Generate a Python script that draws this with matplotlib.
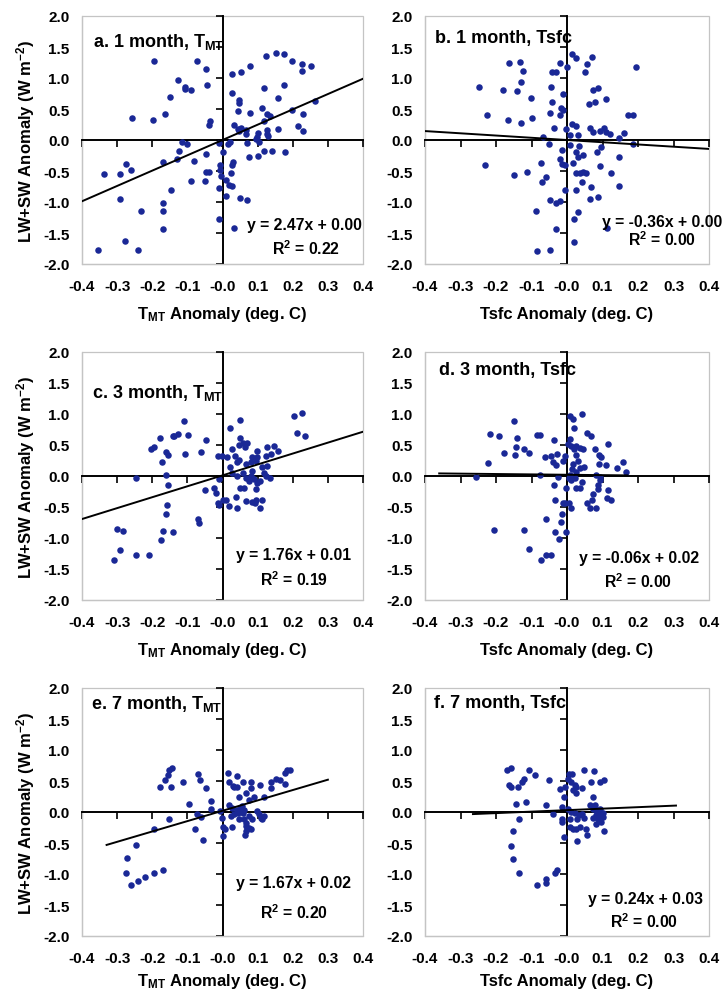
import numpy as np
import matplotlib.pyplot as plt
from matplotlib.patches import Rectangle
from matplotlib.ticker import FormatStrFormatter

plt.rcParams['font.family'] = ['Liberation Sans', 'DejaVu Sans']
plt.rcParams['font.weight'] = 'bold'
plt.rcParams['mathtext.fontset'] = 'custom'
plt.rcParams['mathtext.rm'] = 'Liberation Sans:bold'
plt.rcParams['mathtext.bf'] = 'Liberation Sans:bold'
plt.rcParams['mathtext.it'] = 'Liberation Sans:bold'
plt.rcParams['axes.unicode_minus'] = False

# ---- data ----
a_x = [-0.194, -0.073, -0.046, -0.128, -0.106, -0.108, -0.089, -0.043, -0.149, -0.257,
       -0.197, -0.165, -0.037, -0.038, -0.114, -0.101, -0.124, -0.130, -0.168, -0.080,
       -0.047, -0.047, -0.039, -0.050, -0.090, -0.338, -0.292, -0.274, -0.261, -0.147,
       -0.170, -0.168, -0.291, -0.231, -0.170, -0.279, -0.355, -0.241, -0.011, 0.001,
       -0.007, -0.007, -0.004, 0.009, 0.028, 0.031, 0.024, 0.017, 0.022, 0.018,
       0.028, 0.010, -0.009, 0.050, 0.069, -0.010, 0.034, 0.026, 0.052, 0.079,
       0.028, 0.047, 0.047, 0.044, 0.034, 0.043, 0.052, 0.046, 0.068, 0.067,
       0.069, 0.079, 0.076, 0.123, 0.153, 0.175, 0.197, 0.226, 0.227, 0.252,
       0.175, 0.119, 0.159, 0.263, 0.112, 0.126, 0.134, 0.199, 0.230, 0.118,
       0.159, 0.214, 0.230, 0.126, 0.102, 0.098, 0.126, 0.129, 0.104, 0.095,
       0.102, 0.117, 0.140, 0.178]
a_y = [1.28, 1.28, 1.15, 0.97, 0.86, 0.82, 0.80, 0.89, 0.69, 0.35,
       0.32, 0.42, 0.31, 0.25, -0.04, -0.07, -0.17, -0.30, -0.35, -0.34,
       -0.23, -0.51, -0.51, -0.66, -0.66, -0.55, -0.55, -0.38, -0.49, -0.80,
       -1.02, -1.15, -0.95, -1.14, -1.43, -1.63, -1.78, -1.77, -0.05, -0.19,
       -0.41, -0.49, -0.58, -0.65, -0.41, -0.35, -0.54, -0.07, -0.04, -0.73,
       -0.74, -0.90, -0.78, -0.93, -0.96, -1.27, -1.42, 1.07, 1.10, 1.19,
       0.76, 0.59, 0.65, 0.47, 0.24, 0.18, 0.20, 0.15, 0.16, 0.10,
       -0.05, 0.43, -0.28, 1.35, 1.41, 1.38, 1.28, 1.23, 1.12, 1.19,
       0.88, 0.84, 0.68, 0.63, 0.52, 0.42, 0.39, 0.48, 0.42, 0.30,
       0.18, 0.23, 0.15, 0.16, 0.11, 0.05, 0.09, 0.06, -0.04, 0.02,
       -0.26, -0.17, -0.17, -0.19]

b_x = [-0.247, -0.226, -0.231, -0.179, -0.162, -0.132, -0.125, -0.129, -0.142, -0.165,
       -0.129, -0.101, -0.099, -0.150, -0.113, -0.068, -0.052, -0.074, -0.070, -0.060,
       -0.087, -0.049, -0.030, -0.019, -0.030, -0.085, -0.047, -0.042, -0.030, -0.019,
       0.000, -0.044, -0.011, -0.042, -0.016, -0.011, -0.049, -0.021, -0.038, -0.004,
       -0.013, 0.008, -0.019, -0.014, -0.007, 0.017, 0.015, 0.026, 0.057, 0.051,
       0.071, 0.015, 0.026, 0.031, 0.009, 0.034, 0.024, 0.031, 0.045, 0.036,
       0.045, 0.053, 0.025, 0.041, 0.026, -0.007, 0.031, 0.020, 0.019, 0.061,
       0.080, 0.072, 0.088, 0.111, 0.064, 0.074, 0.092, 0.104, 0.109, 0.121,
       0.097, 0.085, 0.094, 0.067, 0.066, 0.086, 0.125, 0.146, 0.146, 0.113,
       0.173, 0.187, 0.194, 0.185, 0.161, 0.147]
b_y = [0.86, 0.41, -0.40, 0.80, 1.25, 1.26, 1.12, 0.94, 0.79, 0.32,
       0.28, 0.68, 0.35, -0.56, -0.51, 0.05, -0.07, -0.37, -0.68, -0.60,
       -1.15, -0.96, -1.02, -0.99, -1.44, -1.79, -1.77, 1.09, 1.09, 1.25,
       1.18, 0.86, 0.75, 0.61, 0.51, 0.48, 0.43, 0.40, 0.19, 0.17,
       -0.16, -0.08, -0.31, -0.38, -0.41, -0.37, 1.39, 1.33, 1.22, 1.10,
       1.34, 0.26, 0.22, 0.08, 0.08, -0.09, -0.20, -0.27, -0.24, -0.53,
       -0.52, -0.53, -0.53, -0.68, -0.80, -0.81, -1.16, -1.28, -1.64, 0.58,
       0.61, 0.81, 0.84, 0.66, 0.20, 0.13, 0.14, 0.20, 0.13, 0.10,
       -0.11, -0.20, -0.42, -0.75, -0.95, -0.92, -0.53, -0.74, -0.27, -1.42,
       0.41, 0.41, 1.17, -0.06, 0.11, 0.04]

c_x = [-0.110, -0.137, -0.127, -0.142, -0.099, -0.179, -0.196, -0.203, -0.160, -0.156,
       -0.106, -0.047, -0.061, -0.172, -0.162, -0.156, -0.247, -0.050, -0.158, -0.160,
       -0.069, -0.066, -0.170, -0.142, -0.175, -0.300, -0.283, -0.292, -0.309, -0.247,
       -0.208, -0.024, -0.019, -0.014, -0.009, 0.000, 0.009, -0.012, -0.002, -0.009,
       0.019, 0.040, 0.021, 0.050, 0.012, 0.021, 0.028, 0.036, 0.040, 0.047,
       0.047, 0.049, 0.058, 0.071, 0.064, 0.068, 0.057, 0.040, 0.028, 0.038,
       0.049, 0.061, 0.068, 0.075, 0.068, 0.085, 0.094, 0.092, 0.108, 0.113,
       0.080, 0.085, 0.090, 0.099, 0.094, 0.106, 0.094, 0.097, 0.097, 0.085,
       0.080, 0.113, 0.118, 0.123, 0.127, 0.123, 0.134, 0.127, 0.146, 0.137,
       0.158, 0.203, 0.225, 0.212, 0.234]
c_y = [0.88, 0.65, 0.67, 0.64, 0.66, 0.62, 0.46, 0.43, 0.38, 0.34,
       0.35, 0.58, 0.38, 0.22, 0.02, -0.15, -0.03, -0.23, -0.46, -0.61,
       -0.70, -0.76, -0.89, -0.91, -1.03, -0.86, -0.89, -1.19, -1.35, -1.27,
       -1.27, -0.19, -0.27, -0.43, -0.46, -0.38, -0.38, 0.32, 0.32, -0.05,
       -0.49, -0.51, 0.77, 0.90, 0.31, 0.15, 0.44, 0.32, 0.22, 0.26,
       0.50, 0.62, 0.53, 0.53, 0.46, 0.19, 0.05, 0.00, 0.05, -0.34,
       -0.19, -0.19, -0.03, -0.08, -0.41, -0.42, -0.39, -0.43, -0.51, -0.39,
       0.00, 0.08, -0.05, -0.11, -0.21, -0.08, 0.24, 0.31, 0.41, 0.30,
       0.22, 0.14, 0.05, 0.00, 0.16, 0.32, -0.04, 0.46, 0.49, 0.35,
       0.41, 0.96, 1.01, 0.70, 0.64]

d_x = [-0.150, -0.216, -0.191, -0.141, -0.084, -0.077, -0.038, -0.144, -0.120, -0.178,
       -0.146, -0.106, -0.222, -0.255, -0.077, -0.063, -0.044, -0.040, -0.032, -0.028,
       -0.011, -0.007, -0.025, -0.037, -0.033, -0.011, -0.007, -0.002, -0.014, -0.016,
       -0.004, -0.058, -0.035, -0.023, -0.121, -0.205, -0.107, -0.073, -0.060, -0.044,
       0.008, 0.017, 0.041, 0.019, 0.009, 0.003, 0.012, 0.026, 0.020, 0.036,
       0.045, 0.026, 0.031, 0.017, 0.015, 0.026, 0.036, 0.047, 0.006, 0.012,
       0.022, 0.009, 0.025, 0.036, 0.041, 0.006, 0.012, 0.057, 0.069, 0.080,
       0.090, 0.097, 0.090, 0.116, 0.111, 0.083, 0.094, 0.094, 0.088, 0.088,
       0.072, 0.057, 0.071, 0.064, 0.083, 0.116, 0.113, 0.125, 0.140, 0.158,
       0.166]
d_y = [0.88, 0.68, 0.64, 0.62, 0.66, 0.66, 0.58, 0.47, 0.44, 0.37,
       0.34, 0.37, 0.21, -0.02, 0.02, 0.30, 0.32, 0.22, 0.17, 0.36,
       0.25, 0.33, -0.02, -0.15, -0.39, -0.44, -0.43, -0.19, -0.62, -0.74,
       -0.91, -0.70, -0.90, -1.01, -0.87, -0.87, -1.17, -1.35, -1.27, -1.27,
       0.96, 0.92, 1.00, 0.77, 0.60, 0.52, 0.49, 0.49, 0.43, 0.45,
       0.44, 0.34, 0.25, 0.20, 0.12, 0.07, 0.13, 0.14, -0.04, -0.07,
       -0.04, 0.01, -0.20, -0.19, -0.10, -0.44, -0.52, 0.69, 0.64, 0.43,
       0.34, 0.30, 0.20, 0.52, 0.17, 0.01, -0.02, -0.07, -0.15, -0.21,
       -0.29, -0.43, -0.39, -0.52, -0.52, -0.23, -0.36, -0.39, 0.13, 0.22,
       0.06]

e_x = [-0.144, -0.151, -0.154, -0.165, -0.179, -0.146, -0.113, -0.071, -0.063, -0.047,
       -0.094, -0.033, -0.033, -0.074, -0.060, -0.153, -0.078, -0.055, -0.195, -0.245,
       -0.272, -0.276, -0.261, -0.241, -0.222, -0.196, -0.168, 0.000, 0.006, 0.002,
       -0.002, -0.008, 0.017, 0.019, 0.030, 0.040, 0.040, 0.033, 0.059, 0.082,
       0.080, 0.047, 0.066, 0.075, 0.090, 0.019, 0.028, 0.024, 0.033, 0.040,
       0.045, 0.049, 0.057, 0.055, 0.061, 0.026, 0.047, 0.061, 0.066, 0.068,
       0.066, 0.064, 0.075, 0.082, 0.075, 0.085, 0.099, 0.104, 0.111, 0.118,
       0.113, 0.108, 0.118, 0.137, 0.137, 0.153, 0.165, 0.179, 0.177, 0.184,
       0.193]
e_y = [0.71, 0.68, 0.59, 0.52, 0.40, 0.40, 0.48, 0.61, 0.52, 0.38,
       0.13, 0.17, 0.05, -0.03, -0.08, -0.11, -0.28, -0.45, -0.28, -0.54,
       -0.74, -0.98, -1.17, -1.12, -1.05, -0.98, -0.93, -0.24, -0.27, -0.39,
       -0.10, 0.01, 0.63, 0.48, 0.42, 0.40, 0.58, 0.40, 0.49, 0.49,
       0.39, 0.25, 0.30, 0.19, 0.24, 0.12, 0.06, -0.07, -0.03, 0.04,
       -0.01, 0.05, -0.02, 0.09, 0.03, -0.24, -0.11, -0.11, -0.18, -0.23,
       -0.31, -0.37, -0.26, -0.28, -0.07, -0.12, 0.01, -0.04, -0.10, -0.06,
       -0.12, 0.43, 0.24, 0.39, 0.49, 0.54, 0.51, 0.45, 0.63, 0.67,
       0.67]

f_x = [-0.170, -0.159, -0.162, -0.159, -0.139, -0.126, -0.122, -0.108, -0.090, -0.145,
       -0.115, -0.134, -0.153, -0.159, -0.153, -0.136, -0.084, -0.060, -0.058, -0.035,
       -0.027, -0.051, -0.060, -0.040, -0.021, -0.007, -0.009, -0.013, -0.014, -0.014,
       -0.009, 0.006, 0.015, 0.003, 0.012, 0.022, 0.026, 0.042, 0.026, 0.017,
       0.048, 0.075, 0.069, 0.092, 0.104, 0.074, 0.003, 0.012, 0.022, 0.008,
       0.028, 0.034, 0.041, 0.047, 0.008, 0.017, 0.026, 0.036, 0.028, 0.053,
       0.055, 0.064, 0.072, 0.078, 0.083, 0.088, 0.094, 0.083, 0.094, 0.074,
       0.088, 0.097, 0.083, 0.104, 0.100, 0.102]
f_y = [0.67, 0.71, 0.44, 0.41, 0.40, 0.49, 0.54, 0.67, 0.60, 0.13,
       0.16, -0.11, -0.30, -0.55, -0.75, -0.99, -1.18, -1.14, -1.08, -0.98,
       -0.94, 0.51, 0.11, -0.03, 0.37, 0.40, 0.24, 0.08, -0.11, -0.16,
       -0.40, 0.62, 0.62, 0.54, 0.48, 0.44, 0.40, 0.38, 0.30, 0.35,
       0.67, 0.66, 0.49, 0.49, 0.51, 0.24, 0.05, 0.00, -0.01, -0.12,
       -0.12, -0.05, -0.03, -0.10, -0.24, -0.28, -0.27, -0.24, -0.46, -0.28,
       -0.37, 0.11, 0.05, 0.11, 0.03, -0.02, 0.05, -0.05, -0.05, -0.10,
       -0.12, -0.16, -0.19, -0.30, -0.01, -0.08]

titles = ["a. 1 month, T$_\\mathregular{MT}$", "b. 1 month, Tsfc",
          "c. 3 month, T$_\\mathregular{MT}$", "d. 3 month, Tsfc",
          "e. 7 month, T$_\\mathregular{MT}$", "f. 7 month, Tsfc"]
xlabels = ["T$_\\mathregular{MT}$ Anomaly (deg. C)", "Tsfc Anomaly (deg. C)"] * 3
slopes = [2.47, -0.36, 1.76, -0.06, 1.67, 0.24]
intercepts = [0.00, 0.00, 0.01, 0.02, 0.02, 0.03]
r_squared = [0.22, 0.00, 0.19, 0.00, 0.20, 0.00]
fit_ranges = [(-0.4, 0.4), (-0.4, 0.4), (-0.4, 0.4), (-0.36, 0.17), (-0.33, 0.30), (-0.265, 0.307)]
xs = [a_x, b_x, c_x, d_x, e_x, f_x]
ys = [a_y, b_y, c_y, d_y, e_y, f_y]

# ---- layout (pixels of the 724x1003 figure) ----
W, H = 724, 1003
col_px = [(82, 281), (425, 284)]
row_px = [(17, 265), (353, 601), (689, 937)]
title_pos = [(0.039, 0.90), (0.035, 0.915), (0.036, 0.84), (0.049, 0.93), (0.032, 0.94), (0.032, 0.94)]
eq_pos = [((0.234, -1.37), (0.237, -1.73)), ((0.267, -1.32), (0.269, -1.59)),
          ((0.201, -1.27), (0.205, -1.65)), ((0.202, -1.31), (0.201, -1.69)),
          ((0.203, -1.13), (0.203, -1.60)), ((0.22, -1.39), (0.217, -1.75))]
xlabel_y = [-0.2, -0.2, -0.2, -0.2, -0.18, -0.18]

dot_color = '#1a2896'
frame_color = '#c4c4c4'

fig = plt.figure(figsize=(W / 100, H / 100), dpi=100)

for i in range(6):
    r, c = divmod(i, 2)
    left, width = col_px[c]
    top, bottom = row_px[r]
    ax = fig.add_axes([left / W, 1 - bottom / H, width / W, (bottom - top) / H])
    ax.set_xlim(-0.4, 0.4)
    ax.set_ylim(-2.0, 2.0)

    # Excel style: axes cross at zero, labels stay on the frame
    ax.spines['top'].set_position(('data', 0))
    ax.spines['right'].set_position(('data', 0))
    for s in ['top', 'right']:
        ax.spines[s].set_color('black')
        ax.spines[s].set_linewidth(1.4)
    for s in ['left', 'bottom']:
        ax.spines[s].set_color(frame_color)
        ax.spines[s].set_linewidth(0.9)
    ax.add_patch(Rectangle((0, 0), 1, 1, transform=ax.transAxes, fill=False,
                           ec=frame_color, lw=0.9, clip_on=False, zorder=0))

    ax.set_xticks(np.arange(-0.4, 0.41, 0.1))
    ax.set_yticks(np.arange(-2.0, 2.01, 0.5))
    ax.xaxis.set_major_formatter(FormatStrFormatter('%.1f'))
    ax.yaxis.set_major_formatter(FormatStrFormatter('%.1f'))
    ax.tick_params(direction='in', length=5, width=1.2, color='black', labelsize=11,
                   top=True, bottom=False, left=False, right=True,
                   labeltop=False, labelbottom=True, labelleft=True, labelright=False)
    ax.tick_params(axis='x', pad=11)
    ax.tick_params(axis='y', pad=9)

    ax.scatter(xs[i], ys[i], s=22, color=dot_color, zorder=3, clip_on=False, linewidths=0)

    x0, x1 = fit_ranges[i]
    fx = np.array([x0, x1])
    ax.plot(fx, slopes[i] * fx + intercepts[i], color='black', lw=1.4, zorder=4)

    ax.text(title_pos[i][0], title_pos[i][1], titles[i], transform=ax.transAxes,
            fontsize=13, ha='left', va='center')
    (ex, ey), (rx, ry) = eq_pos[i]
    ax.text(ex, ey, f"y = {slopes[i]:.2f}x + {intercepts[i]:.2f}", fontsize=11.3,
            ha='center', va='center', zorder=5)
    ax.text(rx, ry, f"R$^\\mathregular{{2}}$ = {r_squared[i]:.2f}", fontsize=11.3,
            ha='center', va='center', zorder=5)

    ax.text(0.5, xlabel_y[i], xlabels[i], transform=ax.transAxes, fontsize=12,
            ha='center', va='center')
    if c == 0:
        ax.text(-0.2, 0.5, "LW+SW Anomaly (W m$^\\mathregular{-2}$)", transform=ax.transAxes,
                fontsize=12, rotation=90, ha='center', va='center')

fig.savefig('out.png', dpi=100)
